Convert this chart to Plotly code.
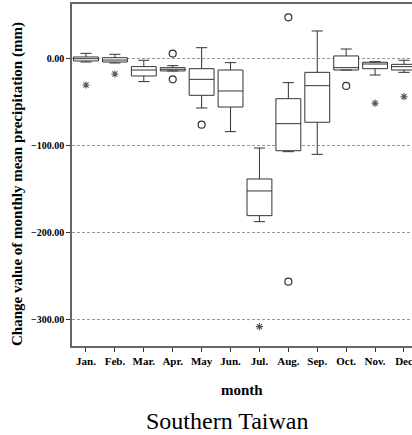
import plotly.graph_objects as go

months = ["Jan.", "Feb.", "Mar.", "Apr.", "May", "Jun.", "Jul.", "Aug.", "Sep.", "Oct.", "Nov.", "Dec"]
upper = [6.5, 5.4, -1.5, -7.7, 13.0, -4.2, -102.7, -27.3, 32.3, 11.5, -3.1, -1.5]
q3 = [2.3, 1.5, -8.8, -10.0, -11.2, -12.7, -138.4, -45.8, -15.4, 3.5, -3.8, -6.2]
median = [0.3, -1.2, -12.7, -11.9, -23.5, -36.9, -152.2, -74.6, -30.8, -10.0, -5.8, -8.8]
q1 = [-2.3, -3.5, -19.6, -13.8, -41.9, -55.4, -180.7, -105.8, -73.0, -12.7, -11.2, -12.7]
lower = [-3.5, -4.6, -26.1, -13.8, -56.5, -83.8, -187.6, -106.9, -110.0, -12.7, -18.5, -15.4]

outlier_month = ["Apr.", "Apr.", "May", "Aug.", "Aug.", "Oct."]
outlier_value = [6.2, -23.5, -75.8, 48.0, -256.8, -31.1]
extreme_month = ["Jan.", "Feb.", "Jul.", "Nov.", "Dec"]
extreme_value = [-30.0, -17.3, -308.7, -51.0, -43.5]

yticks = [0, -100, -200, -300]

serif = "Liberation Serif, Times New Roman, serif"
line_col = "#333333"

fig = go.Figure()
fig.add_trace(go.Box(
    x=months, q1=q1, median=median, q3=q3,
    lowerfence=lower, upperfence=upper,
    boxpoints=False, width=0.86, whiskerwidth=0.45,
    fillcolor="white", line=dict(color=line_col, width=1),
    showlegend=False, hoverinfo="skip",
))
fig.add_trace(go.Scatter(
    x=outlier_month, y=outlier_value, mode="markers",
    marker=dict(symbol="circle-open", size=7, color=line_col, line=dict(width=1.2)),
    showlegend=False,
))
fig.add_trace(go.Scatter(
    x=extreme_month, y=extreme_value, mode="markers",
    marker=dict(symbol="asterisk-open", size=6, color="#555555", line=dict(width=1.1)),
    showlegend=False,
))

fig.update_layout(
    width=412, height=435,
    margin=dict(l=72, r=0, t=4, b=89),
    plot_bgcolor="white", paper_bgcolor="white",
    font=dict(family=serif, color="black"),
    xaxis=dict(
        type="category", categoryorder="array", categoryarray=months,
        range=[-0.484, 11.277],
        showline=True, linecolor="#666666", linewidth=1.5, mirror=True,
        ticks="outside", ticklen=4, tickcolor="#333333",
        tickfont=dict(family=serif, size=11, color="black", weight="bold"),
        showgrid=False, zeroline=False,
    ),
    yaxis=dict(
        range=[-331, 63.4],
        tickvals=yticks, tickformat=".2f",
        showline=True, linecolor="#666666", linewidth=1.5,
        ticks="outside", ticklen=4, tickcolor="#333333",
        tickfont=dict(family=serif, size=10, color="black", weight="bold"),
        showgrid=True, gridcolor="#999999", griddash="3px,2px", gridwidth=1,
        zeroline=False,
    ),
    annotations=[
        dict(text="<b>Change value of monthly mean precipitation (mm)</b>",
             textangle=-90, xref="paper", yref="paper",
             x=-(72 - 17) / 340, y=(346 - 184) / 342,
             xanchor="center", yanchor="middle", showarrow=False,
             font=dict(family=serif, size=15, color="black")),
        dict(text="<b>month</b>", xref="paper", yref="paper",
             x=(242 - 72) / 340, y=(346 - 390) / 342,
             xanchor="center", yanchor="middle", showarrow=False,
             font=dict(family=serif, size=15, color="black")),
        dict(text="Southern Taiwan", xref="paper", yref="paper",
             x=(227 - 72) / 340, y=(346 - 421) / 342,
             xanchor="center", yanchor="middle", showarrow=False,
             font=dict(family=serif, size=24, color="black")),
    ],
)

fig.write_html("out.html")
